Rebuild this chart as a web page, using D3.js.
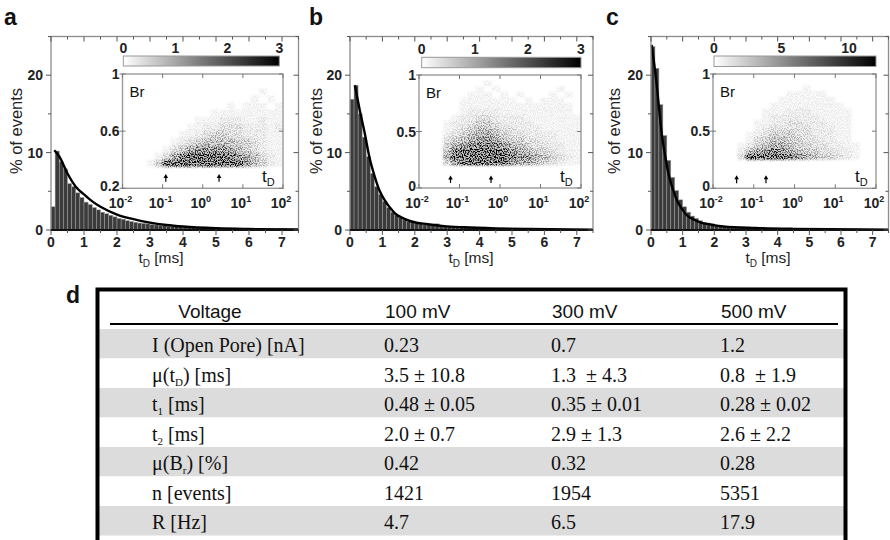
<!DOCTYPE html>
<html>
<head>
<meta charset="utf-8">
<script src="https://cdn.jsdelivr.net/npm/d3@7"></script>
<style>
  body { margin: 0; background: #fff; }
  svg { display: block; }
  text { font-family: "Liberation Sans", Arial, sans-serif; }
  .serif { font-family: "Liberation Serif", "Times New Roman", serif; }
</style>
</head>
<body>
<svg id="fig" width="890" height="540"></svg>
<script>
// ---- histogram data (% of events per 0.125 ms bin) ----
const binWidth = 0.125;
const histA = [3.0, 10.2, 8.8, 7.9, 6.0, 5.6, 4.8, 4.2,
  3.6, 3.3, 2.9, 2.6, 2.3, 2.1, 1.9, 1.7,
  1.5, 1.4, 1.2, 1.1, 1.0, 0.9, 0.85, 0.8,
  0.7, 0.65, 0.6, 0.55, 0.5, 0.45, 0.45, 0.4,
  0.35, 0.35, 0.3, 0.3, 0.3, 0.25, 0.3, 0.25,
  0.3, 0.25, 0.2, 0.25, 0.2, 0.2, 0.2, 0.15,
  0.2, 0.15, 0.15, 0.2, 0.15, 0.15, 0.1, 0.15,
  0.2, 0.1, 0.1, 0.1];
const histB = [16.9, 18.7, 15.0, 12.0, 9.5, 7.3, 5.6, 4.6,
  3.7, 2.9, 2.3, 1.9, 1.6, 1.3, 1.1, 1.0,
  0.9, 0.8, 0.7, 0.65, 0.6, 0.8, 0.55, 0.5,
  0.45, 0.4, 0.4, 0.35, 0.3, 0.3, 0.3, 0.25,
  0.25, 0.2, 0.2, 0.2, 0.2, 0.15, 0.15, 0.15,
  0.15, 0.1, 0.15, 0.1, 0.1, 0.1, 0.1, 0.1,
  0.1, 0.1, 0.05, 0.1, 0.05, 0.05, 0.1, 0.05,
  0.05, 0.05, 0.05, 0.05];
const histC = [23.7, 20.9, 16.2, 12.2, 9.0, 6.8, 5.1, 3.9,
  3.0, 2.3, 1.8, 1.5, 1.2, 1.0, 0.9, 0.8,
  0.65, 0.55, 0.5, 0.45, 0.4, 0.35, 0.3, 0.3,
  0.25, 0.25, 0.2, 0.2, 0.2, 0.15, 0.15, 0.15,
  0.1, 0.1, 0.1, 0.1, 0.1, 0.1, 0.1, 0.1,
  0.1, 0.05, 0.1, 0.05, 0.05, 0.05, 0.05, 0.05,
  0.05, 0.05, 0.05, 0.05, 0.05, 0.05, 0.05, 0.05,
  0.05, 0.05, 0.05, 0.05];

// ---- fitted curves [t (ms), % of events] ----
const fitA = [[0.1, 10.3], [0.25, 9.5], [0.5, 7.3], [0.75, 5.6], [1, 4.6], [1.25, 3.7], [1.5, 3.0],
  [2, 2.0], [2.5, 1.4], [3, 0.95], [3.5, 0.65], [4, 0.45], [5, 0.22], [6, 0.12], [7.5, 0.06]];
const fitB = [[0.15, 18.7], [0.3, 15.5], [0.46, 12.4], [0.6, 9.4], [0.77, 6.8], [0.9, 5.2], [1.08, 3.8],
  [1.25, 2.8], [1.4, 2.1], [1.6, 1.6], [1.9, 1.1], [2.4, 0.75], [2.9, 0.5], [3.5, 0.35], [4.5, 0.2],
  [5.5, 0.12], [7.5, 0.05]];
const fitC = [[0.02, 23.9], [0.1, 21.5], [0.18, 18.8], [0.26, 15.5], [0.34, 12.4], [0.45, 9.5],
  [0.55, 7.3], [0.68, 5.4], [0.81, 3.9], [1.0, 2.6], [1.13, 1.9], [1.35, 1.35], [1.55, 1.0],
  [1.9, 0.7], [2.28, 0.46], [3.3, 0.26], [4.5, 0.15], [7.5, 0.05]];

// ---- inset event density: rows from Br = 1 downward (step 0.05), columns log10(tD) from -2 (step 0.2), 0-9 ----
const gridLogStep = 0.2;
const gridBrStep = 0.05;
const gridA = [
  "00000000000000000000",
  "00000000000000000000",
  "00000000000000000100",
  "00000000000000001010",
  "00000000000001011101",
  "00000000000111111111",
  "00000000011122211211",
  "00000000112233322212",
  "00000001123443322211",
  "00000012345555443211",
  "00000134677776543211",
  "00001368999998765321",
  "00014999999999975421",
  "00000000000000000000",
  "00000000000000000000",
  "00000000000000000000"];
const gridB = [
  "00000000000000000000",
  "00000000100000000000",
  "00000001010000000100",
  "00000011101010001010",
  "00000111111101011100",
  "00000111111111111110",
  "00000122221111111110",
  "00001223322221111111",
  "00012234432222111111",
  "00012345543322211111",
  "00023456654332222111",
  "00034567765443322111",
  "00046788887654332211",
  "00058999998765443211",
  "00069999999877654321",
  "00047999999766543211",
  "00000000000000000000",
  "00000000000000000000",
  "00000000000000000000",
  "00000000000000000000"];
const gridC = [
  "00000000000000000000",
  "00000000000000000000",
  "00000000000100000000",
  "00000000011111000000",
  "00000000111111100000",
  "00000001111111110000",
  "00000011122211111000",
  "00000012222221111000",
  "00000112233222111000",
  "00000123333322211000",
  "00001234443322211000",
  "00001345544332211000",
  "00012456654433221100",
  "00025678765443322100",
  "00039999987654432100",
  "00000000000000000000",
  "00000000000000000000",
  "00000000000000000000",
  "00000000000000000000",
  "00000000000000000000"];

// arrow positions (tD in ms) and colour bar ranges
const arrowsA = [0.12, 2.55];
const arrowsB = [0.06, 0.6];
const arrowsC = [0.038, 0.2];
const cbTicksA = [0, 1, 2, 3];
const cbTicksB = [0, 1, 2, 3];
const cbTicksC = [0, 5, 10];
const cbMax = [3, 3, 12];
const brDomains = [[0.2, 1], [0, 1], [0, 1]];
const brTicks = [[0.2, 0.6, 1], [0, 0.5, 1], [0, 0.5, 1]];
const arrowBr = [[0.245, 0.3], [0.045, 0.11], [0.045, 0.115]];

const tdTicks = [0, 1, 2, 3, 4, 5, 6, 7];
const pctTicks = [0, 10, 20];
const logTicks = [1e-2, 1e-1, 1, 1e1, 1e2];

// ---- table ----
const voltages = ['100 mV', '300 mV', '500 mV'];
const rowLabels = ['I (Open Pore) [nA]', 'μ(t_{D}) [ms]', 't_{1} [ms]', 't_{2} [ms]',
  'μ(B_{r}) [%]', 'n [events]', 'R [Hz]'];
const col100 = ['0.23', '3.5 ± 10.8', '0.48 ± 0.05', '2.0 ± 0.7', '0.42', '1421', '4.7'];
const col300 = ['0.7', '1.3  ± 4.3', '0.35 ± 0.01', '2.9 ± 1.3', '0.32', '1954', '6.5'];
const col500 = ['1.2', '0.8  ± 1.9', '0.28 ± 0.02', '2.6 ± 2.2', '0.28', '5351', '17.9'];

// ---- layout ----
const panels = [
  { letter: 'a', letterX: 4, x0: 51, x1: 298.5, hist: histA, fit: fitA, grid: gridA, arrows: arrowsA, cbTicks: cbTicksA,
    inset: { l: 122.5, r: 283, t: 74, b: 188.3 }, cb: { l: 123.3, r: 279.3, t: 56, b: 66 }, ylab: 16, xlab: 161 },
  { letter: 'b', letterX: 309, x0: 350, x1: 593, hist: histB, fit: fitB, grid: gridB, arrows: arrowsB, cbTicks: cbTicksB,
    inset: { l: 419, r: 581, t: 75, b: 188 }, cb: { l: 421.7, r: 581, t: 57.3, b: 67.7 }, ylab: 316, xlab: 471 },
  { letter: 'c', letterX: 606, x0: 651, x1: 888.5, hist: histC, fit: fitC, grid: gridC, arrows: arrowsC, cbTicks: cbTicksC,
    inset: { l: 713, r: 876, t: 74, b: 188.3 }, cb: { l: 714, r: 876, t: 56, b: 66.5 }, ylab: 614, xlab: 768 },
];
const plotTop = 36.5, plotBottom = 230;

const svg = d3.select('#fig');
const defs = svg.append('defs');

const grad = defs.append('linearGradient').attr('id', 'cbgrad');
grad.append('stop').attr('offset', '0%').attr('stop-color', '#fff');
grad.append('stop').attr('offset', '50%').attr('stop-color', '#7a7a7a');
grad.append('stop').attr('offset', '100%').attr('stop-color', '#000');

// speckle look for the density cloud
const flt = defs.append('filter').attr('id', 'speckle')
  .attr('x', '-0.05').attr('y', '-0.1').attr('width', '1.1').attr('height', '1.2')
  .attr('color-interpolation-filters', 'sRGB');
flt.append('feGaussianBlur').attr('in', 'SourceGraphic').attr('stdDeviation', 1.3).attr('result', 'blur');
flt.append('feTurbulence').attr('type', 'fractalNoise').attr('baseFrequency', 0.85)
  .attr('numOctaves', 1).attr('seed', 7).attr('result', 'noise');
flt.append('feColorMatrix').attr('in', 'noise').attr('type', 'matrix')
  .attr('values', '0 0 0 0 0  0 0 0 0 0  0 0 0 0 0  5 0 0 0 -2.2').attr('result', 'mask');
flt.append('feComposite').attr('in', 'blur').attr('in2', 'mask').attr('operator', 'arithmetic')
  .attr('k1', 1).attr('k2', 0.25).attr('k3', 0).attr('k4', 0);

function subText(sel, str, subSize, shift) {
  const parts = str.split(/_\{([^}]*)\}/);
  let shifted = false;
  parts.forEach((p, i) => {
    if (p === '') return;
    const t = sel.append('tspan').text(p);
    if (i % 2 === 1) {
      t.attr('font-size', subSize).attr('dy', shift);
      shifted = true;
    } else if (shifted) {
      t.attr('dy', -shift);
      shifted = false;
    }
  });
}

panels.forEach((p, pi) => {
  const g = svg.append('g');
  const x = d3.scaleLinear().domain([0, 7.5]).range([p.x0, p.x1]);
  const y = d3.scaleLinear().domain([0, 25]).range([plotBottom, plotTop]);

  // bars
  g.append('g').selectAll('rect').data(p.hist).join('rect')
    .attr('x', (d, i) => x(i * binWidth))
    .attr('width', (d, i) => x((i + 1) * binWidth) - x(i * binWidth))
    .attr('y', d => y(d))
    .attr('height', d => y(0) - y(d))
    .attr('fill', '#3b3b3b')
    .attr('stroke', '#a0a0a0')
    .attr('stroke-width', 0.5);

  // fit
  g.append('path').datum(p.fit)
    .attr('d', d3.line().x(d => x(d[0])).y(d => y(d[1])).curve(d3.curveMonotoneX))
    .attr('fill', 'none').attr('stroke', '#000').attr('stroke-width', 2.4);

  // frame
  g.append('rect').attr('x', p.x0).attr('y', plotTop).attr('width', p.x1 - p.x0).attr('height', plotBottom - plotTop)
    .attr('fill', 'none').attr('stroke', '#8c8c8c').attr('stroke-width', 1.3);
  g.append('line').attr('x1', p.x0).attr('x2', p.x1).attr('y1', plotBottom).attr('y2', plotBottom)
    .attr('stroke', '#111').attr('stroke-width', 2);

  // ticks
  const xMinor = d3.range(0, 7.51, 0.5);
  const yMinor = d3.range(0, 25.1, 5);
  const tk = g.append('g').attr('stroke', '#555').attr('stroke-width', 1);
  xMinor.forEach(v => {
    const len = Number.isInteger(v) ? 5 : 3;
    tk.append('line').attr('x1', x(v)).attr('x2', x(v)).attr('y1', plotBottom).attr('y2', plotBottom + len);
    tk.append('line').attr('x1', x(v)).attr('x2', x(v)).attr('y1', plotTop).attr('y2', plotTop + len);
  });
  yMinor.forEach(v => {
    const len = v % 10 === 0 ? 5 : 3;
    tk.append('line').attr('x1', p.x0 - len).attr('x2', p.x0).attr('y1', y(v)).attr('y2', y(v));
    tk.append('line').attr('x1', p.x1 - len).attr('x2', p.x1).attr('y1', y(v)).attr('y2', y(v));
  });

  g.append('g').selectAll('text').data(tdTicks).join('text')
    .attr('x', d => x(d)).attr('y', 247).attr('text-anchor', 'middle')
    .attr('font-size', 14).attr('font-weight', 'bold').attr('fill', '#222').text(d => d);
  g.append('g').selectAll('text').data(pctTicks).join('text')
    .attr('x', p.x0 - 8).attr('y', d => y(d)).attr('dy', '0.36em').attr('text-anchor', 'end')
    .attr('font-size', 14).attr('font-weight', 'bold').attr('fill', '#222').text(d => d);

  // axis titles
  g.append('text').attr('transform', `translate(${p.ylab + 6},131) rotate(-90)`)
    .attr('text-anchor', 'middle').attr('font-size', 16.5).attr('fill', '#222').text('% of events');
  const xt = g.append('text').attr('x', p.xlab).attr('y', 263).attr('text-anchor', 'middle')
    .attr('font-size', 15.5).attr('fill', '#222');
  subText(xt, 't_{D} [ms]', 10, 4);

  // panel letter
  g.append('text').attr('x', p.letterX).attr('y', 25).attr('font-size', 23).attr('font-weight', 'bold')
    .attr('fill', '#111').text(p.letter);

  // ---- inset ----
  const ins = p.inset;
  const lx = d3.scaleLog().domain([1e-2, 1e2]).range([ins.l, ins.r]);
  const ly = d3.scaleLinear().domain(brDomains[pi]).range([ins.b, ins.t]);
  const ig = g.append('g');
  ig.append('rect').attr('x', ins.l).attr('y', ins.t).attr('width', ins.r - ins.l).attr('height', ins.b - ins.t)
    .attr('fill', '#fff');

  const clipId = 'clip' + p.letter;
  defs.append('clipPath').attr('id', clipId).append('rect')
    .attr('x', ins.l).attr('y', ins.t).attr('width', ins.r - ins.l).attr('height', ins.b - ins.t);

  const cells = [];
  p.grid.forEach((row, ri) => {
    row.split('').forEach((c, ci) => {
      const v = +c;
      if (v > 0) cells.push({ ri, ci, v });
    });
  });
  ig.append('g').attr('clip-path', `url(#${clipId})`)
    .append('g').attr('filter', 'url(#speckle)')
    .selectAll('rect').data(cells).join('rect')
    .attr('x', d => lx(Math.pow(10, -2 + d.ci * gridLogStep)))
    .attr('width', d => lx(Math.pow(10, -2 + (d.ci + 1) * gridLogStep)) - lx(Math.pow(10, -2 + d.ci * gridLogStep)))
    .attr('y', d => ly(1 - d.ri * gridBrStep))
    .attr('height', d => ly(1 - (d.ri + 1) * gridBrStep) - ly(1 - d.ri * gridBrStep))
    .attr('fill', '#000')
    .attr('fill-opacity', d => 0.05 + 0.95 * Math.pow(d.v / 9, 1.7));

  ig.append('rect').attr('x', ins.l).attr('y', ins.t).attr('width', ins.r - ins.l).attr('height', ins.b - ins.t)
    .attr('fill', 'none').attr('stroke', '#9a9a9a').attr('stroke-width', 1.4);

  // inset ticks
  const itk = ig.append('g').attr('stroke', '#777').attr('stroke-width', 1);
  logTicks.forEach(v => {
    itk.append('line').attr('x1', lx(v)).attr('x2', lx(v)).attr('y1', ins.b).attr('y2', ins.b - 4);
    itk.append('line').attr('x1', lx(v)).attr('x2', lx(v)).attr('y1', ins.t).attr('y2', ins.t + 4);
  });
  brTicks[pi].forEach(v => {
    itk.append('line').attr('x1', ins.l - 3).attr('x2', ins.l + 3).attr('y1', ly(v)).attr('y2', ly(v));
    itk.append('line').attr('x1', ins.r - 4).attr('x2', ins.r).attr('y1', ly(v)).attr('y2', ly(v));
  });

  ig.append('g').selectAll('text').data(brTicks[pi]).join('text')
    .attr('x', ins.l - 3).attr('y', d => ly(d)).attr('dy', (d, i) => i === 0 ? '0.2em' : '0.36em')
    .attr('text-anchor', 'end')
    .attr('font-size', 14).attr('font-weight', 'bold').attr('fill', '#222').text(d => d);

  const lt = ig.append('g').selectAll('text').data(logTicks).join('text')
    .attr('x', d => lx(d) - 2).attr('y', ins.b + 19.5).attr('text-anchor', 'middle')
    .attr('font-size', 14).attr('font-weight', 'bold').attr('fill', '#222');
  lt.append('tspan').text('10');
  lt.append('tspan').attr('font-size', 9).attr('dy', -6).text(d => Math.round(Math.log10(d)));

  ig.append('text').attr('x', ins.l + 7).attr('y', ins.t + 23).attr('font-size', 15).attr('fill', '#111').text('Br');
  const tdl = ig.append('text').attr('x', ins.r - 21).attr('y', ins.b - 6).attr('font-size', 17).attr('fill', '#111');
  subText(tdl, 't_{D}', 11, 4);

  // arrows
  const ab = arrowBr[pi];
  const ag = ig.append('g');
  p.arrows.forEach(t => {
    const ax = lx(t);
    ag.append('line').attr('x1', ax).attr('x2', ax).attr('y1', ly(ab[0])).attr('y2', ly(ab[1]) + 2)
      .attr('stroke', '#000').attr('stroke-width', 1.2);
    ag.append('path').attr('d', `M${ax - 2.3},${ly(ab[1]) + 4} L${ax},${ly(ab[1])} L${ax + 2.3},${ly(ab[1]) + 4} Z`)
      .attr('fill', '#000');
  });

  // colour bar
  const cb = p.cb;
  const cx = d3.scaleLinear().domain([0, cbMax[pi]]).range([cb.l, cb.r]);
  ig.append('rect').attr('x', cb.l).attr('y', cb.t).attr('width', cb.r - cb.l).attr('height', cb.b - cb.t)
    .attr('fill', 'url(#cbgrad)').attr('stroke', '#999').attr('stroke-width', 1);
  ig.append('g').selectAll('text').data(p.cbTicks).join('text')
    .attr('x', d => cx(d)).attr('y', cb.t - 3).attr('text-anchor', 'middle')
    .attr('font-size', 14).attr('font-weight', 'bold').attr('fill', '#222').text(d => d);
});

// ---- table d ----
const tg = svg.append('g');
const rowTop = 329, rowH = 29.5;
const colX = [384, 551, 720];
const labelX = 152;

tg.selectAll('rect.band').data(rowLabels).join('rect')
  .attr('x', 99).attr('width', 745)
  .attr('y', (d, i) => rowTop + i * rowH).attr('height', rowH)
  .attr('fill', (d, i) => i % 2 === 0 ? '#dcdcdc' : '#fff');

tg.append('rect').attr('x', 97.5).attr('y', 289.5).attr('width', 748).attr('height', 270)
  .attr('fill', 'none').attr('stroke', '#000').attr('stroke-width', 4);
tg.append('line').attr('x1', 110).attr('x2', 838).attr('y1', 324).attr('y2', 324)
  .attr('stroke', '#000').attr('stroke-width', 2);

tg.append('text').attr('x', 66).attr('y', 303).attr('font-size', 23).attr('font-weight', 'bold')
  .attr('fill', '#111').text('d');

tg.append('text').attr('x', 210).attr('y', 318).attr('text-anchor', 'middle')
  .attr('font-size', 19).attr('fill', '#111').text('Voltage');
tg.selectAll('text.volt').data(voltages).join('text').attr('class', 'volt')
  .attr('x', (d, i) => colX[i] + 1).attr('y', 318)
  .attr('font-size', 19).attr('fill', '#111').text(d => d);

rowLabels.forEach((lab, i) => {
  const t = tg.append('text').attr('class', 'serif').attr('x', labelX).attr('y', rowTop + i * rowH + 23)
    .attr('font-size', 20).attr('fill', '#111');
  subText(t, lab, 11, 4);
});
[col100, col300, col500].forEach((col, ci) => {
  tg.append('g').selectAll('text').data(col).join('text').attr('class', 'serif')
    .attr('x', colX[ci]).attr('y', (d, i) => rowTop + i * rowH + 23)
    .attr('font-size', 20).attr('fill', '#111').style('white-space', 'pre').text(d => d);
});
</script>
</body>
</html>
